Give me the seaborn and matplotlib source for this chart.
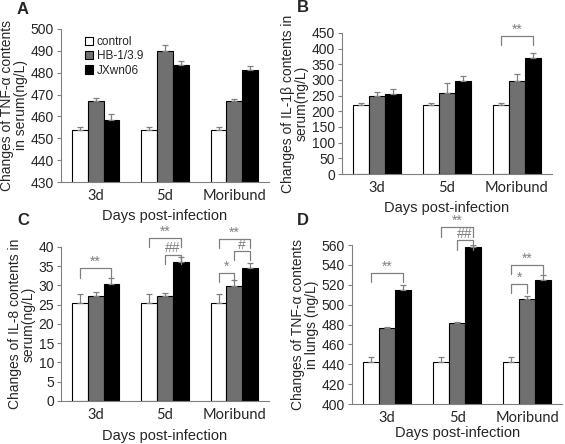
import pandas as pd
import matplotlib.pyplot as plt
import seaborn as sns

days = ["3d", "5d", "Moribund"]
groups = ["control", "HB-1/3.9", "JXwn06"]

# values per group, in order 3d, 5d, Moribund
tnf_serum = {"control": [454, 454, 454], "HB-1/3.9": [467, 490, 467], "JXwn06": [458.5, 483.5, 481]}
tnf_serum_err = {"control": [1, 1, 1], "HB-1/3.9": [1.5, 2.5, 1], "JXwn06": [2.5, 2, 2]}

il1b = {"control": [220, 220, 220], "HB-1/3.9": [250, 258, 297], "JXwn06": [255, 295, 370]}
il1b_err = {"control": [7, 7, 6], "HB-1/3.9": [12, 32, 22], "JXwn06": [15, 17, 17]}

il8 = {"control": [25.5, 25.5, 25.5], "HB-1/3.9": [27.3, 27.2, 29.8], "JXwn06": [30.4, 36.1, 34.5]}
il8_err = {"control": [2.3, 2.3, 2.3], "HB-1/3.9": [1.1, 0.8, 1.6], "JXwn06": [1.6, 1.3, 1.4]}

tnf_lung = {"control": [442, 442, 442], "HB-1/3.9": [477, 482, 506], "JXwn06": [515, 558, 525]}
tnf_lung_err = {"control": [5, 5, 5], "HB-1/3.9": [1, 1, 3], "JXwn06": [5, 2, 5]}

# significance brackets: (day index, group a, group b, level, label)
sig_B = [(2, 0, 2, 439, "**")]
sig_C = [(0, 0, 2, 34.4, "**"), (1, 0, 2, 42.3, "**"), (1, 1, 2, 38.0, "##"),
         (2, 0, 2, 42.0, "**"), (2, 1, 2, 38.9, "#"), (2, 0, 1, 33.3, "*")]
sig_D = [(0, 0, 2, 532, "**"), (1, 0, 2, 578, "**"), (1, 1, 2, 565, "##"),
         (2, 0, 2, 540, "**"), (2, 0, 1, 521, "*")]

colors = ["white", "#707070", "black"]
sns.set_style("white")
plt.rcParams['font.family'] = ['Liberation Sans', 'DejaVu Sans']

fig = plt.figure(figsize=(5.65, 4.44), dpi=100)


def panel(rect, vals, errs, ylim, yticks, ylabel, letter, letter_xy, sigs=(),
          legend=False, xlabelpad=3):
    ax = fig.add_axes(rect)
    df = pd.DataFrame([(d, g, vals[g][i]) for g in groups for i, d in enumerate(days)],
                      columns=["day", "group", "value"])
    sns.barplot(data=df, x="day", y="value", hue="group", order=days, hue_order=groups,
                palette=colors, edgecolor="black", linewidth=0.8, width=0.68,
                errorbar=None, ax=ax, legend=legend)
    # one-sided error bars at bar centres
    centers = {}
    for gi, g in enumerate(groups):
        for i, b in enumerate(ax.containers[gi]):
            x = b.get_x() + b.get_width() / 2
            centers[(i, gi)] = x
            ax.errorbar(x, vals[g][i], yerr=[[0], [errs[g][i]]], color="#808080",
                        elinewidth=0.9, capsize=2, capthick=0.9)
    rng = ylim[1] - ylim[0]
    for (d, a, b, y, lab) in sigs:
        x1, x2 = centers[(d, a)], centers[(d, b)]
        h = rng * 0.06
        ax.plot([x1, x1, x2, x2], [y - h, y, y, y - h], color="#808080", lw=0.9, clip_on=False)
        ax.text((x1 + x2) / 2, y - rng * 0.005, lab, ha="center", va="bottom",
                color="#808080", fontsize=10)
    ax.set_ylim(*ylim)
    ax.set_yticks(yticks)
    ax.set_xlim(-0.5, 2.5)
    ax.set_xlabel("Days post-infection", fontsize=10.5, labelpad=xlabelpad)
    ax.set_ylabel(ylabel, fontsize=10, labelpad=2, linespacing=1.0)
    ax.tick_params(axis="y", labelsize=10, length=3, color="#808080", direction="out",
                   left=True, pad=2)
    ax.tick_params(axis="x", length=0, pad=5)
    for t in ax.get_xticklabels():
        t.set_family(["Lato", "DejaVu Sans"])
        t.set_fontsize(10.5)
    for s in ["top", "right"]:
        ax.spines[s].set_visible(False)
    for s in ["left", "bottom"]:
        ax.spines[s].set_color("#808080")
    fig.text(letter_xy[0], letter_xy[1], letter, fontsize=12, fontweight="bold",
             ha="left", va="top")
    if legend:
        ax.legend(loc="upper left", bbox_to_anchor=(0.08, 1.0), frameon=False, fontsize=8.5,
                  handlelength=0.7, handleheight=0.7, handletextpad=0.3, labelspacing=0.2,
                  borderaxespad=0.2)
    return ax


panel([0.108, 0.590, 0.368, 0.345], tnf_serum, tnf_serum_err, (430, 500),
      range(430, 501, 10), "Changes of TNF-α contents\nin serum(ng/L)", "A",
      (0.030, 0.995), legend=True, xlabelpad=4)
panel([0.605, 0.608, 0.372, 0.318], il1b, il1b_err, (0, 450),
      range(0, 451, 50), "Changes of IL-1β contents in\nserum(ng/L)", "B",
      (0.526, 1.0), sig_B, xlabelpad=4)
panel([0.108, 0.097, 0.368, 0.347], il8, il8_err, (0, 40),
      range(0, 41, 5), "Changes of IL-8 contents in\nserum(ng/L)", "C",
      (0.030, 0.52), sig_C, xlabelpad=5)
panel([0.623, 0.090, 0.372, 0.358], tnf_lung, tnf_lung_err, (400, 560),
      range(400, 561, 20), "Changes of TNF-α contents\nin lungs (ng/L)", "D",
      (0.526, 0.52), sig_D, xlabelpad=1)

fig.savefig("out.png", dpi=100)
